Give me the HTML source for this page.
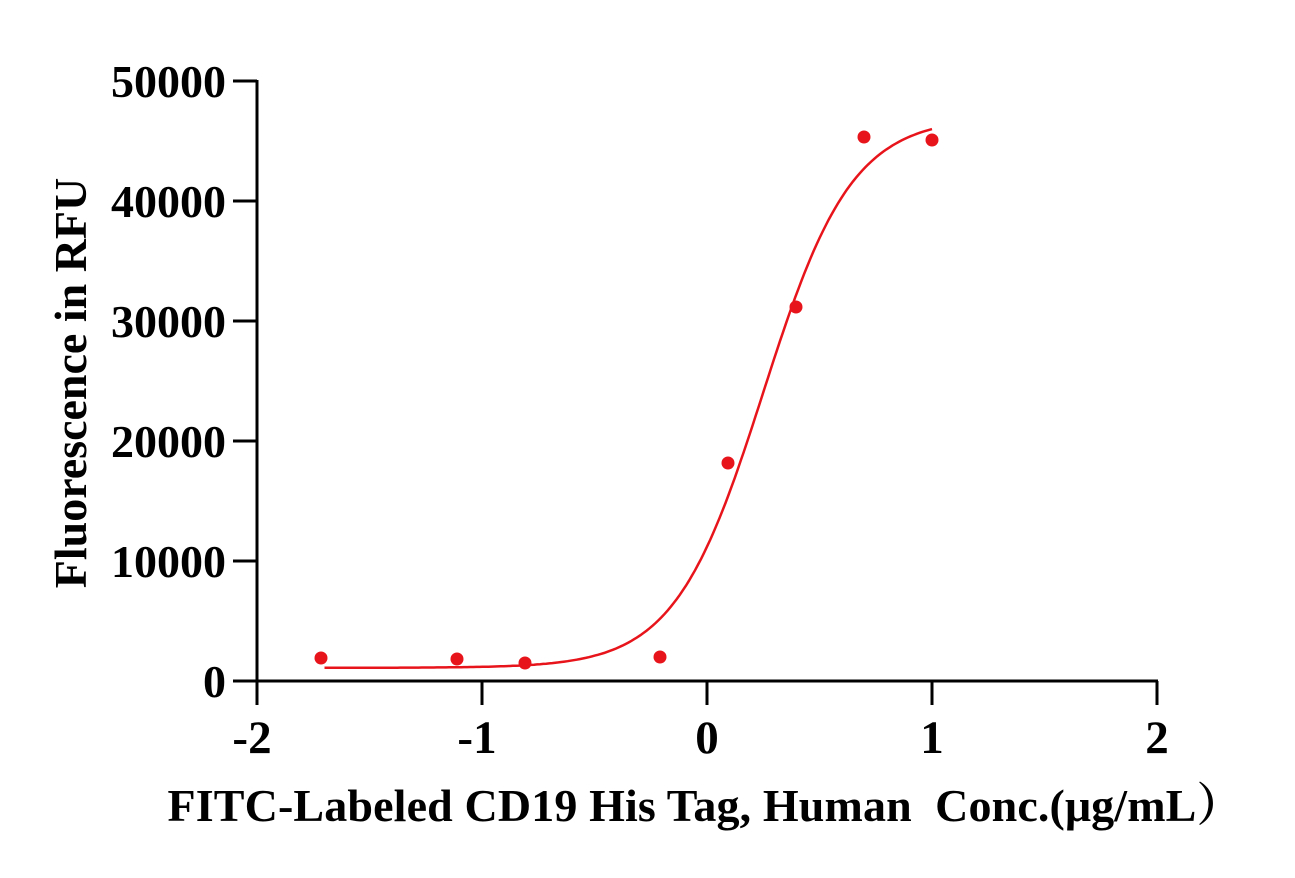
<!DOCTYPE html>
<html><head><meta charset="utf-8"><style>
html,body{margin:0;padding:0;background:#fff;}
svg text{font-family:"Liberation Serif","Noto Serif CJK SC",serif;font-weight:bold;fill:#000;}
</style></head><body>
<svg width="1295" height="873" viewBox="0 0 1295 873" xmlns="http://www.w3.org/2000/svg">
<g stroke="#000" stroke-width="3" fill="none">
<line x1="257" y1="80" x2="257" y2="682"/>
<line x1="256" y1="681" x2="1158" y2="681"/>
<line x1="233" y1="81" x2="257" y2="81"/>
<line x1="233" y1="201" x2="257" y2="201"/>
<line x1="233" y1="321" x2="257" y2="321"/>
<line x1="233" y1="441" x2="257" y2="441"/>
<line x1="233" y1="561" x2="257" y2="561"/>
<line x1="233" y1="681" x2="257" y2="681"/>
<line x1="257" y1="681" x2="257" y2="705"/>
<line x1="482" y1="681" x2="482" y2="705"/>
<line x1="707" y1="681" x2="707" y2="705"/>
<line x1="932" y1="681" x2="932" y2="705"/>
<line x1="1157" y1="681" x2="1157" y2="705"/>
</g>
<g font-size="46" text-anchor="end">
<text x="226" y="97">50000</text>
<text x="226" y="217">40000</text>
<text x="226" y="337">30000</text>
<text x="226" y="457">20000</text>
<text x="226" y="577">10000</text>
<text x="226" y="697">0</text>
</g>
<g font-size="47" text-anchor="middle">
<text x="252" y="753">-2</text>
<text x="477" y="753">-1</text>
<text x="707" y="753">0</text>
<text x="932" y="753">1</text>
<text x="1157" y="753">2</text>
</g>
<text x="705" y="821" font-size="46" text-anchor="middle" textLength="1075" style="white-space:pre">FITC-Labeled CD19 His Tag, Human  Conc.(μg/mL）</text>
<text transform="translate(86,383) rotate(-90)" font-size="46" text-anchor="middle">Fluorescence in RFU</text>
<path id="curve" fill="none" stroke="#e8141b" stroke-width="2.5" d=""/>
<g fill="#e8141b">
<circle cx="321" cy="658" r="6.5"/>
<circle cx="457" cy="659" r="6.5"/>
<circle cx="525" cy="663" r="6.5"/>
<circle cx="660" cy="657" r="6.5"/>
<circle cx="728" cy="463" r="6.5"/>
<circle cx="796" cy="307" r="6.5"/>
<circle cx="864" cy="137" r="6.5"/>
<circle cx="932" cy="140" r="6.5"/>
</g>
</svg>
<script>
(function(){var d="",b=1100,t=47000,e=0.25,h=2.2;
for(var i=0;i<=200;i++){var x=-1.7+2.7*i/200;var v=b+(t-b)/(1+Math.pow(10,(e-x)*h));
var px=257+(x+2)*225,py=681-v*0.012;d+=(i?"L":"M")+px.toFixed(1)+" "+py.toFixed(1);}
document.getElementById("curve").setAttribute("d",d);})();
</script>
</body></html>
